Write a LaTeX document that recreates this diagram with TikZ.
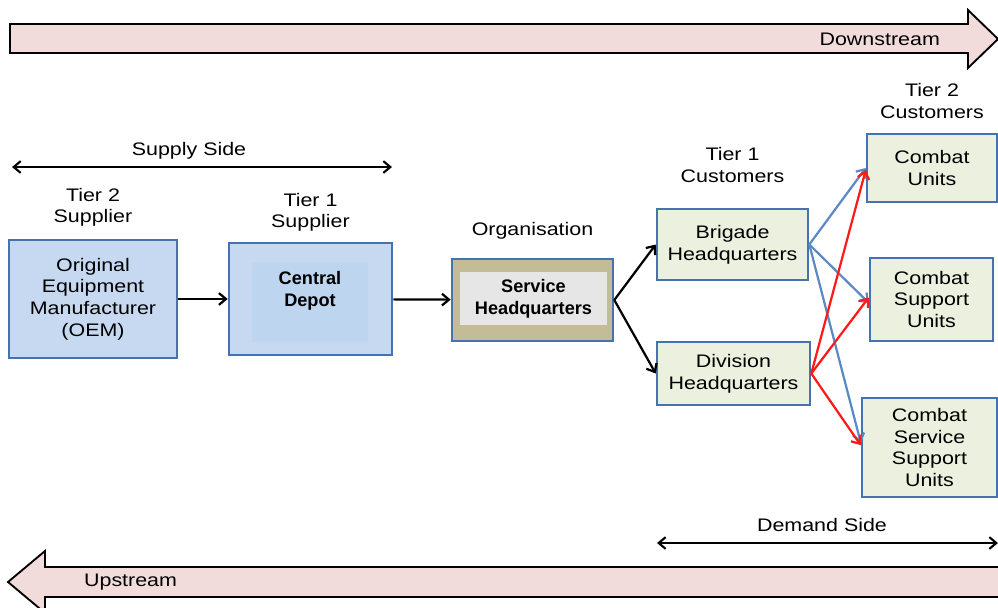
\documentclass[tikz,border=0pt]{standalone}
\usepackage{fontspec}
\setmainfont[FakeStretch=1.18]{Liberation Sans}
\newfontfamily\hqfont{Liberation Sans}
\usepackage{xcolor}
\usetikzlibrary{arrows.meta,positioning}

\definecolor{flowpink}{HTML}{F2DCDB}
\definecolor{boxblue}{HTML}{4572B0}
\definecolor{supblue}{HTML}{C6D9F1}
\definecolor{depotblue}{HTML}{BDD5EE}
\definecolor{hqtan}{HTML}{C4BC96}
\definecolor{hqgrey}{HTML}{E6E6E6}
\definecolor{custgreen}{HTML}{EBF1DE}
\definecolor{feedblue}{HTML}{5A8AC6}
\definecolor{feedred}{HTML}{FF1A1A}

\begin{document}
\begin{tikzpicture}[x=0.3mm,y=-0.3mm,
  font=\fontsize{15.5}{18.5}\selectfont,
  tierbox/.style={draw=boxblue,line width=2.2pt,align=center,inner sep=0pt},
  supplier/.style={tierbox,fill=supblue},
  customer/.style={tierbox,fill=custgreen},
  tag/.style={align=center,inner sep=0pt},
  boldtext/.style={font=\hqfont\fontsize{15.5}{18.5}\selectfont\bfseries},
  feed/.style={-{Straight Barb[length=6pt,width=10pt]},line width=1.9pt},
  sidearrow/.style={{Straight Barb[length=6pt,width=10pt]}-{Straight Barb[length=6pt,width=10pt]},line width=1.8pt},
  flow/.style={draw=black,line width=1.6pt,fill=flowpink,line join=miter}]
\useasboundingbox (0,0) rectangle (998,607);
\clip (0,0) rectangle (998,607);

% direction of flow
\draw[flow] (10,24) -- (968,24) -- (968,10) -- (998,39) -- (968,68) -- (968,53) -- (10,53) -- cycle;
\node[anchor=east] (down) at (944,39) {Downstream};
\draw[flow] (1010,567) -- (45,567) -- (45,551) -- (8,582) -- (45,613) -- (45,597) -- (1010,597) -- cycle;
\node[anchor=west] (up) at (80,582) {Upstream};

% suppliers
\node[supplier,minimum width=50.4mm,minimum height=35.4mm] (oem) at (93,299)
  {Original\\Equipment\\Manufacturer\\(OEM)};
\node[tag,above=3.6mm of oem] (tier2s) {Tier 2\\Supplier};
\node[supplier,minimum width=48.9mm,minimum height=33.6mm] (depot) at (310.5,299) {};
\node[fill=depotblue,minimum width=34.8mm,minimum height=24mm,inner sep=0pt] (depotcore) at (310,302) {};
\node[align=center,boldtext] (depottext) at (310,291) {Central\\Depot};
\node[tag,above=3mm of depot] (tier1s) {Tier 1\\Supplier};

% organisation
\node[tierbox,fill=hqtan,minimum width=48.3mm,minimum height=24.6mm] (shq) at (532.5,300) {};
\node[fill=hqgrey,minimum width=44.1mm,minimum height=15.9mm,inner sep=0pt,align=center,
  boldtext] (shqcore) at (533.5,298.5) {Service\\Headquarters};
\node[tag,above=5.4mm of shq] (org) {Organisation};

% customers
\node[customer,minimum width=45.3mm,minimum height=21.3mm] (bhq) at (732.5,244.5) {Brigade\\Headquarters};
\node[customer,minimum width=45.9mm,minimum height=18.9mm] (dhq) at (733.5,373.5) {Division\\Headquarters};
\node[tag,above=7.5mm of bhq] (tier1c) {Tier 1\\Customers};
\node[customer,minimum width=39mm,minimum height=20.4mm] (cu) at (932,168) {Combat\\Units};
\node[customer,minimum width=36.9mm,minimum height=24.9mm] (csu) at (931.5,299.5) {Combat\\Support\\Units};
\node[customer,minimum width=40.5mm,minimum height=29.7mm] (cssu) at (929.5,447.5) {Combat\\Service\\Support\\Units};
\node[tag,above=4.2mm of cu] (tier2c) {Tier 2\\Customers};

% supply chain links
\draw[feed] (oem) -- (depot);
\draw[feed] (depot) -- (shq);
\draw[feed] (shq.east) -- (bhq.west);
\draw[feed] (shq.east) -- (dhq.west);
\draw[feed,feedblue] (bhq.east) -- (cu.west);
\draw[feed,feedblue] (bhq.east) -- ([yshift=-1mm]csu.west);
\draw[feed,feedblue] (bhq.east) -- ([yshift=1.5mm]cssu.west);
\draw[feed,feedred] (dhq.east) -- ([yshift=-0.6mm]cu.west);
\draw[feed,feedred] (dhq.east) -- ([yshift=0.6mm]csu.west);
\draw[feed,feedred] (dhq.east) -- ([yshift=0.7mm]cssu.west);

% supply and demand sides
\coordinate (sl) at (12,167);
\coordinate (sr) at (392,167);
\draw[sidearrow] (sl) -- (sr);
\node (supply) at (189,151) {Supply Side};
\coordinate (dl) at (657,543);
\coordinate (dr) at (998,543);
\draw[sidearrow] (dl) -- (dr);
\node (demand) at (822,525) {Demand Side};
\end{tikzpicture}
\end{document}
